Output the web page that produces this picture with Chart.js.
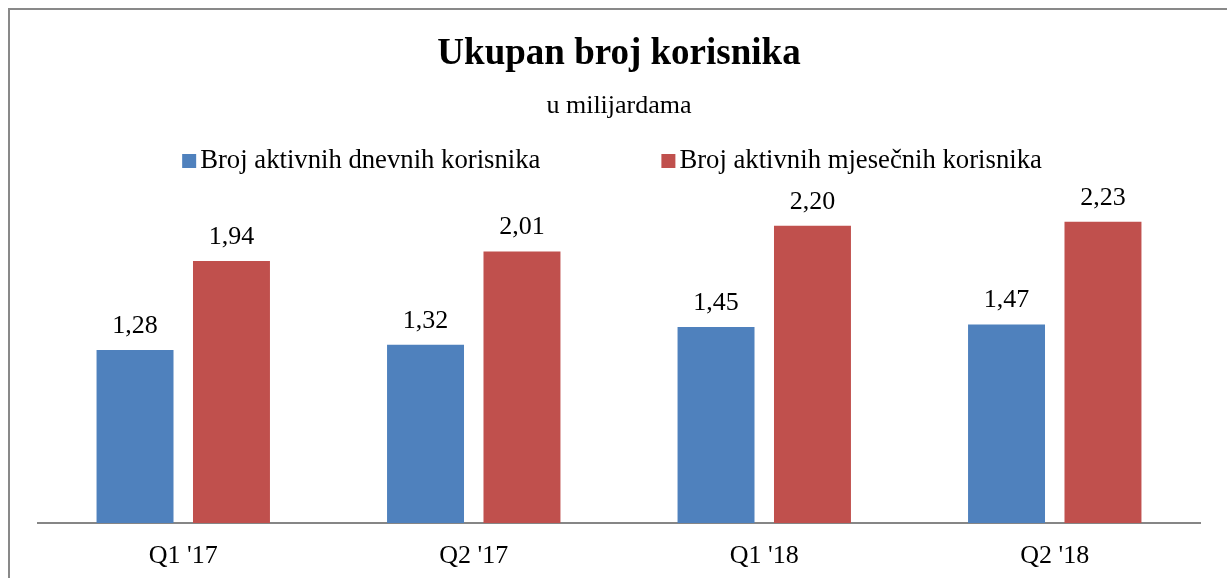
<!DOCTYPE html>
<html>
<head>
<meta charset="utf-8">
<script src="https://cdn.jsdelivr.net/npm/chart.js@4/dist/chart.umd.min.js"></script>
<style>
  html, body { margin: 0; padding: 0; background: #fff; overflow: hidden; }
  #frame { position: absolute; left: 8px; top: 8px; width: 1400px; height: 800px; border: 2px solid #898989; box-sizing: border-box; }
  #chart { position: absolute; left: 0; top: 0; }
</style>
</head>
<body>
<div id="frame"></div>
<canvas id="chart" width="1227" height="589"></canvas>
<script>
const quarters = ["Q1 '17", "Q2 '17", "Q1 '18", "Q2 '18"]
const dailyUsers = [1.28, 1.32, 1.45, 1.47]
const monthlyUsers = [1.94, 2.01, 2.20, 2.23]
const seriesNames = ['Broj aktivnih dnevnih korisnika', 'Broj aktivnih mjesečnih korisnika']
const seriesColors = ['#4F81BD', '#C0504D']

const serif = "'Liberation Serif', 'Times New Roman', serif"
Chart.defaults.font.family = serif
Chart.defaults.color = '#000'

const fmt = v => v.toFixed(2).replace('.', ',')

// value labels above each bar
const barLabels = {
  id: 'barLabels',
  afterDatasetsDraw(chart) {
    const ctx = chart.ctx
    ctx.save()
    ctx.font = '26px ' + serif
    ctx.fillStyle = '#000'
    ctx.textAlign = 'center'
    ctx.textBaseline = 'alphabetic'
    chart.data.datasets.forEach((ds, i) => {
      chart.getDatasetMeta(i).data.forEach((bar, j) => {
        ctx.fillText(fmt(ds.data[j]), bar.x, bar.y - 17)
      })
    })
    ctx.restore()
  }
}

// legend in the Excel style: small square right next to the text
const squareLegend = {
  id: 'squareLegend',
  afterDraw(chart) {
    const ctx = chart.ctx
    const box = 14, gap = 4, spacing = 121
    ctx.save()
    ctx.font = '26.7px ' + serif
    const widths = chart.data.datasets.map(ds => ctx.measureText(ds.label).width)
    const total = widths.reduce((a, w) => a + box + gap + w, 0) + spacing * (widths.length - 1)
    let x = 612 - total / 2
    const mid = 161
    chart.data.datasets.forEach((ds, i) => {
      ctx.fillStyle = ds.backgroundColor
      ctx.fillRect(x, mid - box / 2, box, box)
      ctx.fillStyle = '#000'
      ctx.textBaseline = 'alphabetic'
      ctx.textAlign = 'left'
      ctx.fillText(ds.label, x + box + gap, 168)
      x += box + gap + widths[i] + spacing
    })
    ctx.restore()
  }
}

new Chart(document.getElementById('chart'), {
  type: 'bar',
  data: {
    labels: quarters,
    datasets: [
      { label: seriesNames[0], data: dailyUsers, backgroundColor: seriesColors[0] },
      { label: seriesNames[1], data: monthlyUsers, backgroundColor: seriesColors[1] }
    ]
  },
  options: {
    responsive: false,
    animation: false,
    layout: { padding: { left: 38, right: 27, top: 0, bottom: 0 } },
    datasets: {
      bar: { categoryPercentage: 0.664, barPercentage: 0.798, borderWidth: 0 }
    },
    plugins: {
      title: {
        display: true,
        text: 'Ukupan broj korisnika',
        font: { size: 37, weight: 'bold' },
        padding: { top: 32, bottom: 0 }
      },
      subtitle: {
        display: true,
        text: 'u milijardama',
        font: { size: 26 },
        color: '#000',
        padding: { top: 14.2, bottom: 63.45 }
      },
      legend: { display: false },
      tooltip: { enabled: false }
    },
    scales: {
      x: {
        grid: { display: false, drawTicks: false },
        border: { display: true, color: '#868686', width: 2 },
        ticks: { font: { size: 26 }, color: '#000', padding: 17.4 }
      },
      y: {
        display: false,
        min: 0,
        max: 2.5
      }
    }
  },
  plugins: [barLabels, squareLegend]
})
</script>
</body>
</html>
